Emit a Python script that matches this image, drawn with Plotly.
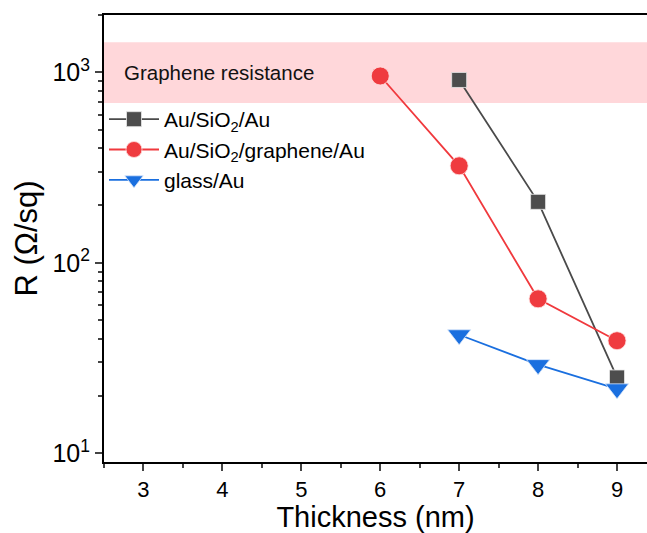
import plotly.graph_objects as go
import numpy as np

thickness_a = [7, 8, 9]
r_au_sio2_au = [912, 209, 25.0]
thickness_b = [6, 7, 8, 9]
r_au_sio2_gr_au = [957, 323, 64.7, 39.0]
thickness_c = [7, 8, 9]
r_glass_au = [41.9, 29.2, 21.8]
band_low, band_high = 690, 1440
names = ["Au/SiO<sub>2</sub>/Au", "Au/SiO<sub>2</sub>/graphene/Au", "glass/Au"]
y_tickvals = [10, 100, 1000]
y_ticktext = ["10<sup>1</sup>", "10<sup>2</sup>", "10<sup>3</sup>"]

FONT = "Arial, Liberation Sans, sans-serif"

fig = go.Figure()
fig.add_hrect(y0=band_low, y1=band_high, fillcolor="#FFD7DA", line_width=0, layer="below")
fig.add_trace(go.Scatter(x=thickness_a, y=r_au_sio2_au, name=names[0], mode="lines+markers",
                         line=dict(color="#4a4a4a", width=1.8),
                         marker=dict(symbol="square", size=15, color="#4d4d4d",
                                     line=dict(color="#e8e8e8", width=0.8))))
fig.add_trace(go.Scatter(x=thickness_b, y=r_au_sio2_gr_au, name=names[1], mode="lines+markers",
                         line=dict(color="#F0393D", width=1.8),
                         marker=dict(symbol="circle", size=18, color="#EF3B3F",
                                     line=dict(color="#ffdede", width=0.8))))
fig.add_trace(go.Scatter(x=thickness_c, y=r_glass_au, name=names[2], mode="lines+markers",
                         line=dict(color="#1A6FDF", width=1.8),
                         marker=dict(symbol="triangle-down", size=20, color="#1A6FDF",
                                     line=dict(color="#d8e6fa", width=0.8))))

fig.add_annotation(x=2.73, y=np.log10(np.sqrt(band_low * band_high)), xref="x", yref="y",
                   text="Graphene resistance", showarrow=False, xanchor="left",
                   font=dict(family=FONT, size=20.5, color="#111"))

fig.update_layout(
    width=647, height=533,
    margin=dict(l=104, r=0, t=15, b=71),
    paper_bgcolor="white", plot_bgcolor="white",
    font=dict(family=FONT, color="black"),
    showlegend=True,
    legend=dict(x=0.0, y=0.812, xanchor="left", yanchor="top", bgcolor="rgba(0,0,0,0)",
                font=dict(family=FONT, size=21), itemwidth=50, tracegroupgap=0),
    xaxis=dict(range=[2.5, 9.38], dtick=1, tick0=3, ticks="outside", ticklen=7, tickwidth=1.5,
               showline=True, linecolor="black", linewidth=2, mirror=True, showgrid=False,
               zeroline=False, tickfont=dict(size=22),
               minor=dict(ticks="outside", ticklen=4, tickwidth=1.5, dtick=0.5, tick0=2.5),
               title=dict(text="Thickness (nm)", font=dict(size=29), standoff=5)),
    yaxis=dict(type="log", range=[np.log10(9), np.log10(2000)], tickvals=y_tickvals,
               ticktext=y_ticktext,
               ticks="outside", ticklen=7, tickwidth=1.5, showline=True, linecolor="black",
               linewidth=2, mirror=False, showgrid=False, zeroline=False, tickfont=dict(size=25),
               minor=dict(ticks="outside", ticklen=4, tickwidth=1.5, dtick="D1"),
               title=dict(text="R (Ω/sq)", font=dict(size=31), standoff=6)),
)

fig.write_html("out.html")
